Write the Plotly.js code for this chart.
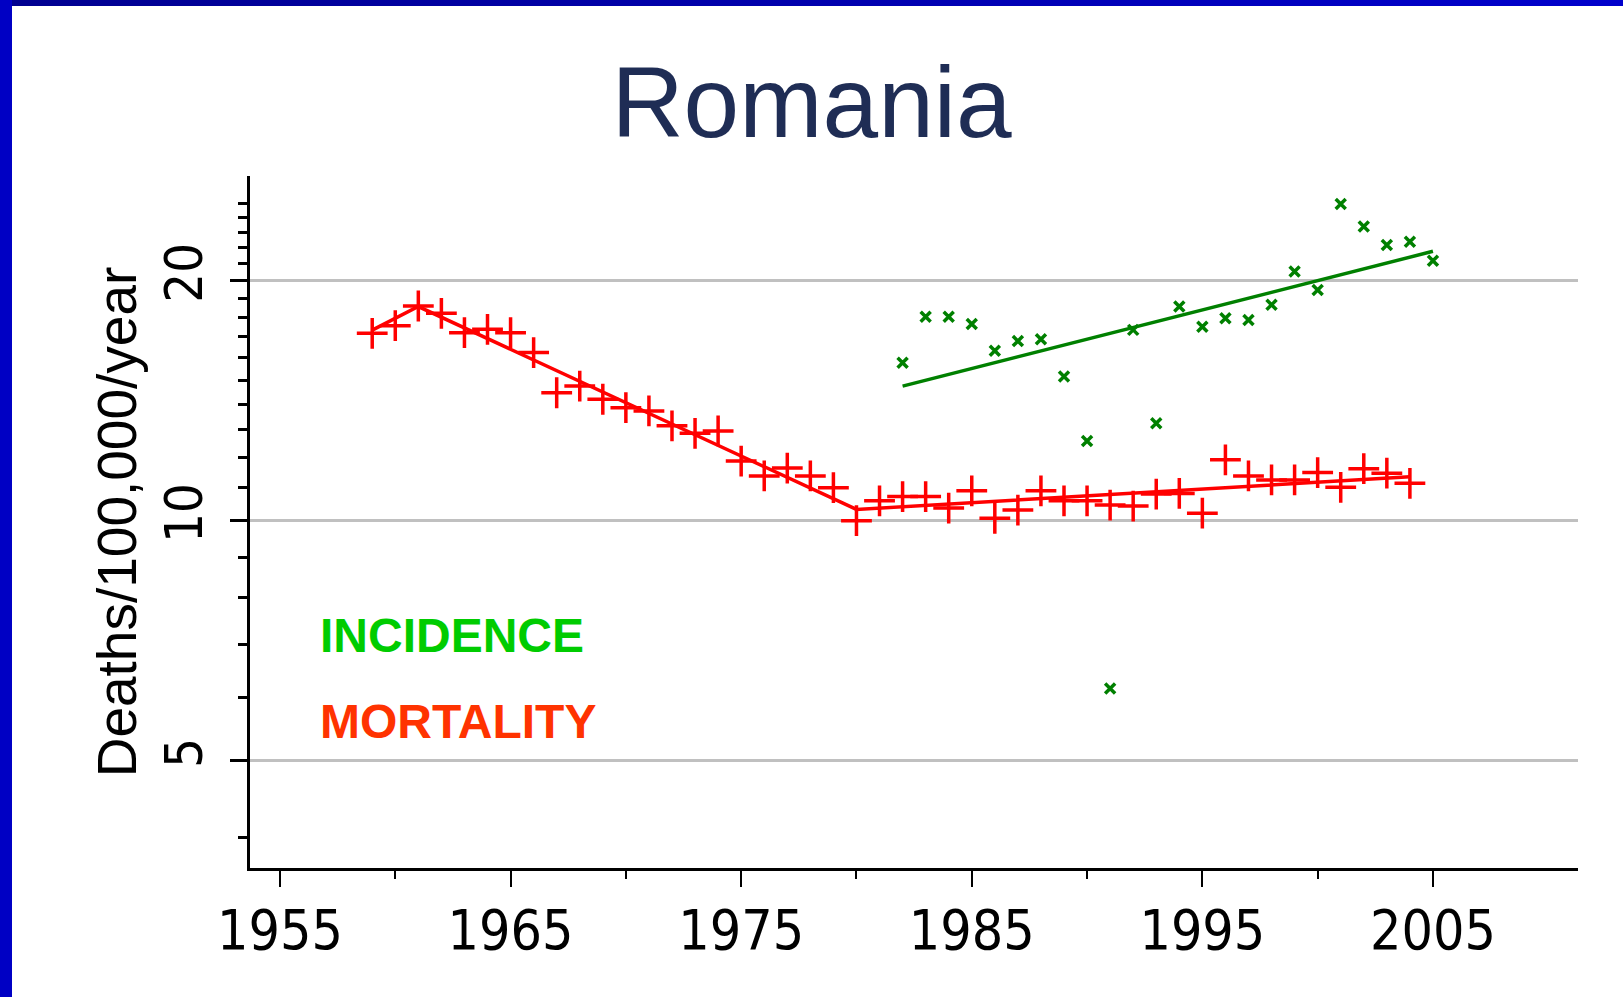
<!DOCTYPE html>
<html>
<head>
<meta charset="utf-8">
<script src="https://cdn.plot.ly/plotly-3.0.1.min.js"></script>
<style>
html,body{margin:0;padding:0;background:#ffffff;overflow:hidden;}
#chart{position:absolute;left:0;top:0;width:1623px;height:997px;}
#topbar{position:absolute;left:0;top:0;width:1623px;height:6px;background:linear-gradient(to right,#000090,#0000CC);}
#leftbar{position:absolute;left:0;top:0;width:12px;height:997px;background:#0000C4;}
</style>
</head>
<body>
<div id="chart"></div>
<div id="topbar"></div>
<div id="leftbar"></div>
<script>
// ---- data ----
const mortalityYears = [1959,1960,1961,1962,1963,1964,1965,1966,1967,1968,1969,1970,1971,1972,1973,1974,1975,1976,1977,1978,1979,1980,1981,1982,1983,1984,1985,1986,1987,1988,1989,1990,1991,1992,1993,1994,1995,1996,1997,1998,1999,2000,2001,2002,2003,2004];
const mortalityRates = [17.18,17.56,18.59,18.20,17.21,17.38,17.21,16.25,14.47,14.75,14.20,13.86,13.73,13.15,12.87,12.96,11.88,11.38,11.64,11.38,11.00,10.00,10.59,10.72,10.72,10.37,10.90,10.07,10.31,10.90,10.59,10.59,10.46,10.43,10.80,10.82,10.22,11.92,11.38,11.25,11.25,11.49,11.01,11.62,11.47,11.14];

const mortalityTrendYears = [1959,1961,1980,2004];
const mortalityTrendRates = [17.34,18.56,10.33,11.35];

const incidenceYears = [1982,1983,1984,1985,1986,1987,1988,1989,1990,1991,1992,1993,1994,1995,1996,1997,1998,1999,2000,2001,2002,2003,2004,2005];
const incidenceRates = [15.78,18.02,18.02,17.65,16.34,16.80,16.89,15.16,12.59,6.16,17.35,13.25,18.56,17.51,17.94,17.85,18.65,20.53,19.47,24.96,23.38,22.17,22.38,21.19];

const incidenceTrendYears = [1982,2005];
const incidenceTrendRates = [14.75,21.77];

const xTickYears = [1955,1965,1975,1985,1995,2005];
const xTickLabels = ['1955','1965','1975','1985','1995','2005'];
const xMinorYears = [1960,1970,1980,1990,2000];

const yTickValues = [5,10,20];
const yTickLabels = ['5','10','20'];
const yMinorValues = [4,6,7,8,9,11,12,13,14,15,16,17,18,19,21,22,23,24,25];

const chartTitle = 'Romania';
const yTitle = 'Deaths/100,000/year';
const incidenceLabel = 'INCIDENCE';
const mortalityLabel = 'MORTALITY';

// ---- styling ----
const narrowFont = '"Liberation Sans Narrow", "DejaVu Sans Condensed", "Arial Narrow", sans-serif';
const sansFont = '"Liberation Sans", Arial, sans-serif';

const traces = [
  {
    x: mortalityTrendYears, y: mortalityTrendRates, type: 'scatter', mode: 'lines',
    line: {color: '#FF0000', width: 3.5}, hoverinfo: 'skip'
  },
  {
    x: incidenceTrendYears, y: incidenceTrendRates, type: 'scatter', mode: 'lines',
    line: {color: '#008000', width: 3.5}, hoverinfo: 'skip'
  },
  {
    x: mortalityYears, y: mortalityRates, type: 'scatter', mode: 'markers', name: mortalityLabel,
    marker: {symbol: 'cross-thin', size: 22, color: '#FF0000', line: {color: '#FF0000', width: 3.5}}
  },
  {
    x: incidenceYears, y: incidenceRates, type: 'scatter', mode: 'markers', name: incidenceLabel,
    marker: {symbol: 'x-thin', size: 10, color: '#008000', line: {color: '#008000', width: 3.5}}
  }
];

const layout = {
  width: 1623, height: 997,
  margin: {l: 250, r: 45, t: 176, b: 129, pad: 0},
  paper_bgcolor: 'rgba(0,0,0,0)',
  plot_bgcolor: '#ffffff',
  showlegend: false,
  title: {
    text: chartTitle,
    font: {family: sansFont, size: 100, color: '#1F2D55'},
    x: 0.5, xanchor: 'center', xref: 'container',
    y: 1 - 102/997, yanchor: 'middle', yref: 'container'
  },
  xaxis: {
    range: [1953.70, 2011.29],
    showline: true, linecolor: '#000000', linewidth: 3,
    ticks: 'outside', ticklen: 16, tickwidth: 2, tickcolor: '#000000',
    tickmode: 'array', tickvals: xTickYears, ticktext: xTickLabels,
    ticklabelstandoff: -4,
    tickfont: {family: narrowFont, size: 55, color: '#000000'},
    showgrid: false, zeroline: false,
    minor: {tickmode: 'array', tickvals: xMinorYears, ticks: 'outside', ticklen: 8, tickwidth: 2, tickcolor: '#000000', showgrid: false}
  },
  yaxis: {
    type: 'log',
    range: [0.5644, 1.4323],
    showline: true, linecolor: '#000000', linewidth: 3,
    ticks: 'outside', ticklen: 17, tickwidth: 3, tickcolor: '#000000',
    tickmode: 'array', tickvals: yTickValues, ticktext: yTickLabels,
    tickangle: -90,
    ticklabelstandoff: 7,
    tickfont: {family: narrowFont, size: 52, color: '#000000'},
    showgrid: true, gridcolor: '#C0C0C0', gridwidth: 3,
    zeroline: false,
    minor: {tickmode: 'array', tickvals: yMinorValues, ticks: 'outside', ticklen: 9, tickwidth: 3, tickcolor: '#000000', showgrid: false},
    title: {text: yTitle, font: {family: sansFont, size: 55, color: '#000000'}, standoff: 0}
  },
  annotations: [
    {
      text: '<b>' + incidenceLabel + '</b>', xref: 'paper', yref: 'paper',
      x: (318 - 250) / 1328, y: (868 - 635) / 692, xanchor: 'left', yanchor: 'middle',
      showarrow: false, font: {family: sansFont, size: 48, color: '#00CC00'}
    },
    {
      text: '<b>' + mortalityLabel + '</b>', xref: 'paper', yref: 'paper',
      x: (318 - 250) / 1328, y: (868 - 721) / 692, xanchor: 'left', yanchor: 'middle',
      showarrow: false, font: {family: sansFont, size: 48, color: '#FF3300'}
    }
  ]
};

Plotly.newPlot('chart', traces, layout, {staticPlot: true, displayModeBar: false});
</script>
</body>
</html>
